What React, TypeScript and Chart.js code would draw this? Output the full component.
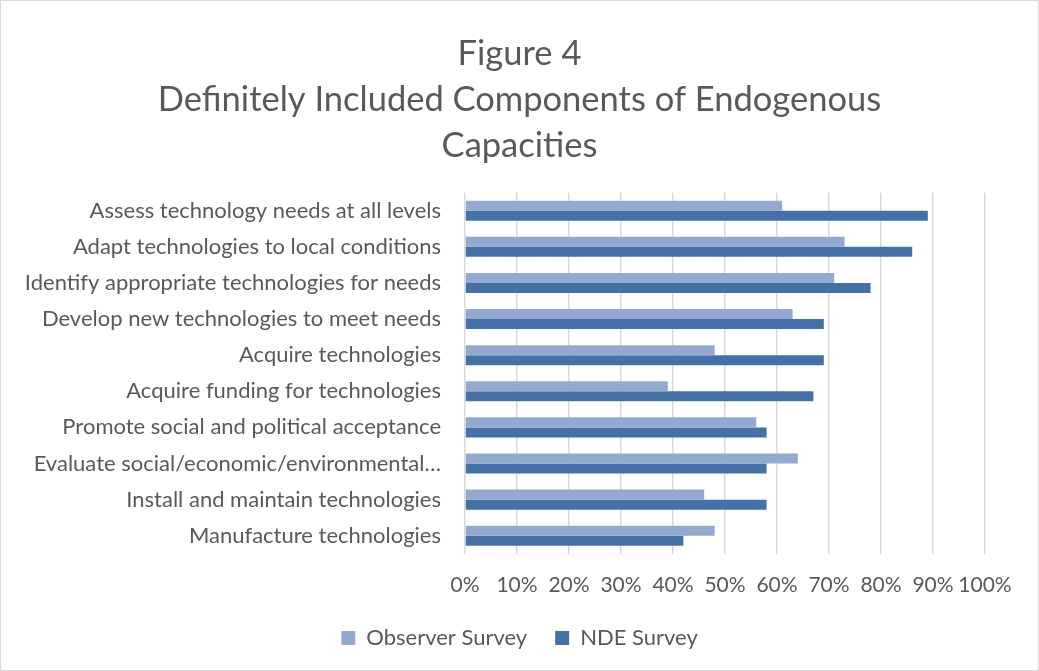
import React, { useEffect, useRef } from "react";
import { Chart, registerables } from "chart.js";

Chart.register(...registerables);

const categories = [
  "Assess technology needs at all levels",
  "Adapt technologies to local conditions",
  "Identify appropriate technologies for needs",
  "Develop new technologies to meet needs",
  "Acquire technologies",
  "Acquire funding for technologies",
  "Promote social and political acceptance",
  "Evaluate social/economic/environmental…",
  "Install and maintain technologies",
  "Manufacture technologies",
];

const observerSurvey = [61, 73, 71, 63, 48, 39, 56, 64, 46, 48];
const ndeSurvey = [89, 86, 78, 69, 69, 67, 58, 58, 58, 42];

const seriesNames = ["Observer Survey", "NDE Survey"];
const titleLines = ["Figure 4", "Definitely Included Components of Endogenous", "Capacities"];

const FONT = "Lato, 'Open Sans', sans-serif";
const TEXT = "#595959";

const borderPlugin = {
  id: "outerBorder",
  beforeDraw(chart: any) {
    const { ctx, width, height } = chart;
    ctx.save();
    ctx.fillStyle = "#ffffff";
    ctx.fillRect(0, 0, width, height);
    ctx.strokeStyle = "#d9d9d9";
    ctx.lineWidth = 1;
    ctx.strokeRect(0.5, 0.5, width - 1, height - 1);
    ctx.restore();
  },
};

const legendShift = {
  id: "legendShift",
  afterLayout(chart: any) {
    const lg = chart.legend;
    if (lg) {
      lg.top -= 18;
      lg.bottom -= 18;
      if (lg.adjustHitBoxes) lg.adjustHitBoxes();
    }
  },
};

export default function App() {
  const ref = useRef<HTMLCanvasElement | null>(null);
  useEffect(() => {
    if (!ref.current) return;
    const chart = new Chart(ref.current, {
      type: "bar",
      data: {
        labels: categories,
        datasets: [
          {
            label: seriesNames[0],
            data: observerSurvey,
            backgroundColor: "#94A9CF",
            categoryPercentage: 0.556,
            barPercentage: 1,
          },
          {
            label: seriesNames[1],
            data: ndeSurvey,
            backgroundColor: "#4472A7",
            categoryPercentage: 0.556,
            barPercentage: 1,
          },
        ],
      },
      options: {
        indexAxis: "y",
        animation: false,
        responsive: false,
        maintainAspectRatio: false,
        layout: { padding: { left: 0, right: 0, top: 31, bottom: -6 } },
        plugins: {
          title: {
            display: true,
            text: titleLines,
            color: TEXT,
            font: { family: FONT, size: 34.5, weight: "normal", lineHeight: 1.33 },
            padding: { top: 0, bottom: 24 },
          },
          legend: {
            position: "bottom",
            labels: {
              color: TEXT,
              font: { family: FONT, size: 22 },
              boxWidth: 14,
              boxHeight: 14,
              padding: 28,
            },
          },
          tooltip: { enabled: false },
        },
        scales: {
          x: {
            min: 0,
            max: 100,
            ticks: {
              stepSize: 10,
              color: TEXT,
              font: { family: FONT, size: 21 },
              padding: 19,
              maxRotation: 0,
              minRotation: 0,
              autoSkip: false,
              callback: (v: any) => v + "%",
            },
            grid: { color: "#d9d9d9", lineWidth: 1.5, drawTicks: false },
            border: { display: false },
          },
          y: {
            ticks: {
              color: TEXT,
              font: { family: FONT, size: 22 },
              padding: 24,
              autoSkip: false,
            },
            grid: { display: false, drawTicks: false },
            border: { display: false },
            afterFit: (scale: any) => {
              scale.width = 465;
            },
          },
          yRight: {
            type: "linear",
            axis: "y",
            position: "right",
            display: true,
            ticks: { display: false },
            grid: { display: false, drawTicks: false },
            border: { display: false },
            afterFit: (scale: any) => {
              scale.width = 54;
            },
          },
        },
      },
      plugins: [borderPlugin, legendShift],
    });
    return () => chart.destroy();
  }, []);
  return (
    <div style={{ position: "absolute", left: 0, top: 0, width: 1039, height: 671 }}>
      <canvas ref={ref} width={1039} height={671} />
    </div>
  );
}
